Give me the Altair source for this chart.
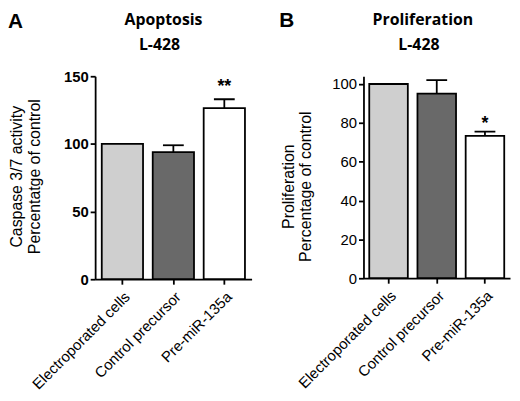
import altair as alt
import pandas as pd

groups = ["Electroporated cells", "Control precursor", "Pre-miR-135a"]
bar_colors = ["#cfcfcf", "#696969", "#ffffff"]

apoptosis_mean = [100, 94, 126.5]
apoptosis_sem = [0, 5, 6.5]
apoptosis_sig = ["", "", "**"]

prolif_mean = [100, 95, 73.3]
prolif_sem = [0, 7, 2.2]
prolif_sig = ["", "", "*"]

apoptosis_title = ["Apoptosis", "L-428"]
prolif_title = ["Proliferation", "L-428"]
apoptosis_ylabel = ["Caspase 3/7 activity", "Percentatge of control"]
prolif_ylabel = ["Proliferation", "Percentage of control"]
panel_letters = ["A", "B"]
apoptosis_ticks = [0, 50, 100, 150]
prolif_ticks = [0, 20, 40, 60, 80, 100]

FONT = "Liberation Sans"
TFONT = "Open Sans"


def text_layer(txt, x, y, size, weight, align, baseline, font):
    return alt.Chart(pd.DataFrame({"t": [txt]})).mark_text(
        align=align, baseline=baseline, fontSize=size, fontWeight=weight,
        font=font, color="black"
    ).encode(x=alt.value(x), y=alt.value(y), text="t:N")


def panel(mean, sem, sig, title_lines, ylabel, letter, ticks, ymax, width, height,
          pin, pout, tick_weight, title_x, title_y, letter_x, letter_y,
          ax_title_x, ax_title_y, star_dy):
    df = pd.DataFrame({"group": groups, "mean": mean, "sem": sem, "sig": sig})
    df["upper"] = df["mean"] + df["sem"]

    xaxis = alt.Axis(title=None, labelAngle=-45, labelAlign="right", labelBaseline="top",
                     labelFont=FONT, labelFontSize=15, labelColor="black",
                     tickSize=5, labelPadding=5, domainColor="black", domainWidth=1.8,
                     tickColor="black", tickWidth=1.8)
    yaxis = alt.Axis(values=ticks, title=ylabel, titleFont=FONT, titleFontSize=16,
                     titleFontWeight="normal", titleColor="black", titleAngle=-90,
                     titleAlign="center", titleBaseline="top", titleX=ax_title_x,
                     titleY=ax_title_y, titleLineHeight=18,
                     labelFont=FONT, labelFontSize=15, labelFontWeight=tick_weight,
                     labelColor="black", tickSize=5, labelPadding=2,
                     domainColor="black", domainWidth=1.8, tickColor="black",
                     tickWidth=1.8, grid=False)
    xscale = alt.Scale(paddingInner=pin, paddingOuter=pout)
    yscale = alt.Scale(domain=[0, ymax], nice=False)

    base = alt.Chart(df)
    X = alt.X("group:N", sort=groups, scale=xscale, axis=xaxis)

    bars = base.mark_bar(stroke="black", strokeWidth=1.8).encode(
        x=X,
        y=alt.Y("mean:Q", scale=yscale, axis=yaxis),
        fill=alt.Fill("group:N", scale=alt.Scale(domain=groups, range=bar_colors), legend=None),
    )
    err = base.transform_filter("datum.sem > 0")
    rules = err.mark_rule(color="black", strokeWidth=1.8).encode(
        x=X, y=alt.Y("mean:Q", scale=yscale, axis=yaxis), y2="upper:Q"
    )
    caps = err.mark_tick(color="black", thickness=1.8, size=21, opacity=1).encode(
        x=X, y=alt.Y("upper:Q", scale=yscale, axis=yaxis)
    )
    stars = base.mark_text(fontSize=18, fontWeight="bold", font=FONT, color="black",
                           baseline="middle", dy=star_dy).encode(
        x=X, y=alt.Y("upper:Q", scale=yscale, axis=yaxis), text="sig:N"
    )
    t1 = text_layer(title_lines[0], title_x, title_y, 16, "bold", "center", "middle", TFONT)
    t2 = text_layer(title_lines[1], title_x - 4, title_y + 26, 16, "bold", "center", "middle", TFONT)
    lt = text_layer(letter, letter_x, letter_y, 21, "bold", "left", "top", FONT)
    return alt.layer(bars, rules, caps, stars, t1, t2, lt).properties(width=width, height=height)


panel_a = panel(apoptosis_mean, apoptosis_sem, apoptosis_sig, apoptosis_title, apoptosis_ylabel,
                panel_letters[0], apoptosis_ticks, 150, 158, 205, 0.19, 0.13, "bold",
                69, -57, -88, -66, -87, 101, -12)
panel_b = panel(prolif_mean, prolif_sem, prolif_sig, prolif_title, prolif_ylabel,
                panel_letters[1], prolif_ticks, 104, 148, 204, 0.2, 0.12, "normal",
                60, -57, -85, -67, -84, 111, -8)

chart = alt.hconcat(panel_a, panel_b, spacing=28).configure_view(stroke=None).properties(
    padding={"left": 0, "top": 0, "right": 2, "bottom": 0}
)

chart.save("out.html", embed_options={"renderer": "svg", "actions": False})
